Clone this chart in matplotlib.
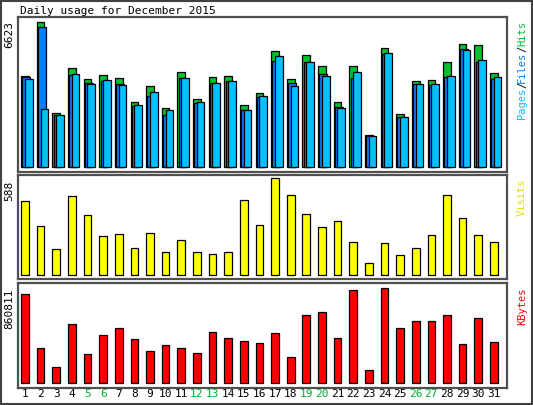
import matplotlib.pyplot as plt
import numpy as np

days = list(range(1, 32))
weekend = [5, 6, 12, 13, 19, 20, 26, 27]
hits = [4156, 6623, 2466, 4522, 4019, 4202, 4065, 2969, 3700, 2695, 4339, 3106, 4111, 4156, 2832, 3380,
        5298, 4019, 5116, 4613, 2969, 4613, 1462, 5435, 2421, 3928, 3974, 4796, 5618, 5572, 4293]
files = [4111, 6395, 2375, 4202, 3837, 3928, 3791, 2786, 3243, 2375, 4065, 2923, 3837, 3928, 2603, 3197,
         4842, 3837, 4796, 4248, 2740, 4065, 1416, 5161, 2284, 3791, 3745, 4111, 5390, 4796, 4019]
pages = [4019, 2649, 2375, 4248, 3791, 3974, 3745, 2832, 3426, 2603, 4065, 2969, 3837, 3928, 2603, 3243,
         5070, 3700, 4796, 4156, 2695, 4339, 1416, 5207, 2284, 3791, 3791, 4156, 5344, 4887, 4111]
visits = [446, 297, 155, 477, 365, 235, 248, 161, 254, 142, 210, 142, 130, 142, 452, 303,
          588, 483, 371, 291, 328, 198, 74, 192, 124, 167, 241, 483, 347, 241, 198]
kbytes = [806447, 317142, 144979, 534611, 262775, 434938, 498366, 398693, 289958, 344326, 317142,
          271836, 462121, 407754, 380570, 362448, 453060, 235591, 616162, 643345, 407754, 842692,
          117796, 860811, 498366, 561794, 561794, 616162, 353387, 588978, 371509]

plt.rcParams['font.family'] = 'DejaVu Sans Mono'
W, H = 533, 405
fig = plt.figure(figsize=(W / 100, H / 100), dpi=100)
fig.patches.append(plt.Rectangle((0.002, 0.002), 0.996, 0.995, transform=fig.transFigure,
                                 fill=False, ec='#404040', lw=1.5))

x = np.array(days)
left, right = 17.5, 506.5


def panel(top, bottom):
    ax = fig.add_axes([left / W, 1 - bottom / H, (right - left) / W, (bottom - top) / H])
    ax.set_xlim(0.52, 31.81)
    ax.set_xticks([])
    ax.set_yticks([])
    for s in ax.spines.values():
        s.set_linewidth(1.6)
        s.set_color('#505050')
    return ax


def side(y, s, color='black'):
    fig.text(522 / W, 1 - y / H, s, rotation=90, color=color, ha='center', va='center', fontsize=7.5)


def lab(y, s):
    fig.text(9 / W, 1 - y / H, s, rotation=90, ha='center', va='center', fontsize=8)


bw = 0.49
kw = dict(edgecolor='black', linewidth=0.9, align='center')

ax1 = panel(17, 172)
ax1.bar(x, hits, bw, color='#00c030', **kw)
ax1.bar(x + 0.08, files, bw, color='#0080ff', **kw)
ax1.bar(x + 0.24, pages, bw, color='#00c0ff', **kw)
ax1.set_ylim(-max(hits) * 0.035, max(hits) * 1.035)
lab(34, str(max(hits)))
fig.text(20 / W, 1 - 11 / H, 'Daily usage for December 2015', ha='left', va='center', fontsize=8)
side(103, 'Pages', '#00c0ff')
side(85, '/')
side(67, 'Files', '#0080ff')
side(49, '/')
side(34, 'Hits', '#00c030')

ax2 = panel(175, 279)
ax2.bar(x, visits, bw, color='#ffff00', **kw)
ax2.set_ylim(-max(visits) * 0.04, max(visits) * 1.03)
lab(191, str(max(visits)))
side(197, 'Visits', '#e0e000')

ax3 = panel(283, 388)
ax3.bar(x, kbytes, bw, color='#ff0000', **kw)
ax3.set_ylim(-max(kbytes) * 0.05, max(kbytes) * 1.05)
lab(309, str(max(kbytes)))
side(306, 'KBytes', '#ff0000')

for d in days:
    xf = (left + (d - 0.52) / 31.29 * (right - left)) / W
    fig.text(xf, 1 - 394 / H, str(d), ha='center', va='center', fontsize=8,
             color='#00b030' if d in weekend else 'black')

fig.savefig('out.png', dpi=100)
